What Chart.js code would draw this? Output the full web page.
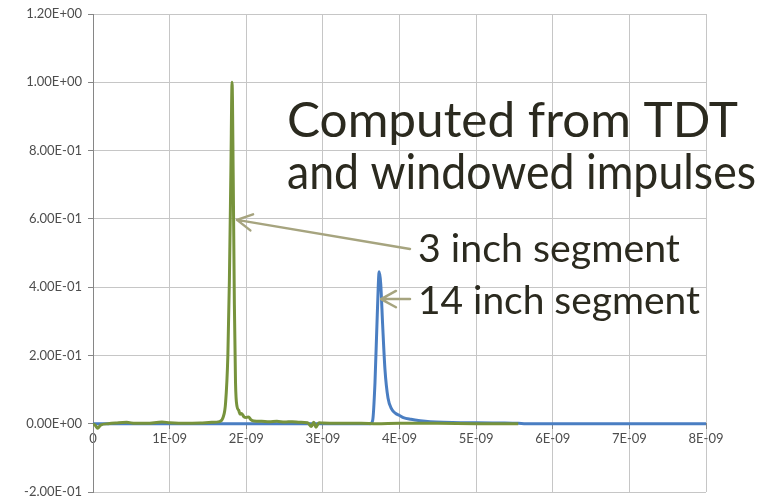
<!DOCTYPE html>
<html>
<head>
<meta charset="utf-8">
<script src="https://cdn.jsdelivr.net/npm/chart.js@4"></script>
<style>
  html, body { margin: 0; padding: 0; background: #fff; }
  #wrap { width: 771px; height: 502px; }
</style>
</head>
<body>
<div id="wrap"><canvas id="impulseChart" width="771" height="502"></canvas></div>
<script>
// time axis is in ns, tick texts below are what the original shows
const xTickLabels = ["0", "1E-09", "2E-09", "3E-09", "4E-09", "5E-09", "6E-09", "7E-09", "8E-09"];
const yTickLabels = ["-2.00E-01", "0.00E+00", "2.00E-01", "4.00E-01", "6.00E-01", "8.00E-01", "1.00E+00", "1.20E+00"];

// 3 inch segment (green)
const greenTime = [0, 0.03, 0.06, 0.1, 0.2, 0.3, 0.44, 0.55, 0.7, 0.9, 1.0, 1.2, 1.4, 1.55, 1.65,
  1.7, 1.73, 1.76, 1.78, 1.8, 1.815, 1.83, 1.845, 1.86, 1.88, 1.9, 1.92, 1.94, 1.97, 2.0, 2.03,
  2.06, 2.1, 2.2, 2.3, 2.4, 2.5, 2.6, 2.7, 2.8, 2.85, 2.88, 2.91, 2.95, 3.0, 3.2, 3.5, 3.7, 4.0,
  4.5, 5.0, 5.55];
const greenValue = [0, -0.005, -0.013, -0.004, 0, 0.002, 0.004, 0.001, 0.001, 0.005, 0.003, 0.001, 0.002, 0.004, 0.006,
  0.02, 0.06, 0.2, 0.42, 0.75, 1.0, 0.72, 0.35, 0.12, 0.05, 0.04, 0.028, 0.03, 0.02, 0.018, 0.02,
  0.012, 0.008, 0.007, 0.006, 0.007, 0.005, 0.006, 0.004, 0.003, -0.008, 0.004, -0.01, 0.003, 0.002, 0.001, 0.001, 0, 0.001,
  0.001, 0, 0];

// 14 inch segment (blue)
const blueTime = [0, 1, 2, 3, 3.62, 3.65, 3.68, 3.71, 3.735, 3.755, 3.78, 3.81, 3.85, 3.9, 3.95,
  4.0, 4.05, 4.15, 4.27, 4.4, 4.57, 4.8, 5.0, 5.3, 5.55, 5.65, 6, 7, 8];
const blueValue = [0, 0, 0, 0, 0, 0.01, 0.12, 0.32, 0.445, 0.41, 0.29, 0.16, 0.075, 0.042, 0.03,
  0.024, 0.018, 0.013, 0.009, 0.006, 0.004, 0.003, 0.003, 0.002, 0.001, 0, 0, 0, 0];

const toPoints = (xs, ys) => xs.map((x, i) => ({ x: x, y: ys[i] }));

// annotation anchors in data units (w = text width in ns)
const notes = {
  title: [{ text: "Computed from TDT", x: 2.532, y: 0.841, w: 5.886 },
          { text: "and windowed impulses", x: 2.532, y: 0.688, w: 6.121 }],
  labels: [{ text: "3 inch segment", x: 4.241, y: 0.474, w: 3.419 },
           { text: "14 inch segment", x: 4.241, y: 0.32, w: 3.68 }],
  arrows: [{ from: [4.137, 0.512], to: [1.879, 0.597] }, { from: [4.137, 0.365], to: [3.759, 0.365] }]
};

const annotate = {
  id: "annotate",
  afterDraw(chart) {
    const ctx = chart.ctx, sx = chart.scales.x, sy = chart.scales.y;
    const put = t => {
      const x = sx.getPixelForValue(t.x), y = sy.getPixelForValue(t.y);
      const want = sx.getPixelForValue(t.x + t.w) - x;
      ctx.save();
      ctx.translate(x, y);
      ctx.scale(want / ctx.measureText(t.text).width, 1);
      ctx.fillText(t.text, 0, 0);
      ctx.restore();
    };
    ctx.save();
    ctx.fillStyle = "#2b2a1f";
    ctx.textBaseline = "alphabetic";
    ctx.textAlign = "left";
    ctx.font = "48px Lato";
    notes.title.forEach(put);
    ctx.font = "38px Lato";
    notes.labels.forEach(put);

    ctx.strokeStyle = "#a6a47f";
    ctx.lineWidth = 2.5;
    ctx.lineCap = "round";
    notes.arrows.forEach(a => {
      const x0 = sx.getPixelForValue(a.from[0]), y0 = sy.getPixelForValue(a.from[1]);
      const x1 = sx.getPixelForValue(a.to[0]), y1 = sy.getPixelForValue(a.to[1]);
      const ang = Math.atan2(y0 - y1, x0 - x1);
      ctx.beginPath();
      ctx.moveTo(x0, y0);
      ctx.lineTo(x1, y1);
      [-0.5, 0.5].forEach(d => {
        ctx.moveTo(x1, y1);
        ctx.lineTo(x1 + 17 * Math.cos(ang + d), y1 + 17 * Math.sin(ang + d));
      });
      ctx.stroke();
    });
    ctx.restore();
  }
};

new Chart(document.getElementById("impulseChart"), {
  type: "line",
  data: {
    datasets: [{
      label: "3 inch segment",
      data: toPoints(greenTime, greenValue),
      borderColor: "#77933c",
      borderWidth: 3,
      pointRadius: 0,
      cubicInterpolationMode: "monotone"
    }, {
      label: "14 inch segment",
      data: toPoints(blueTime, blueValue),
      borderColor: "#4a7ec2",
      borderWidth: 3,
      pointRadius: 0,
      cubicInterpolationMode: "monotone"
    }]
  },
  options: {
    responsive: false,
    animation: false,
    layout: { padding: { top: 14, right: 65, bottom: 10, left: 0 } },
    plugins: { legend: { display: false }, tooltip: { enabled: false } },
    scales: {
      x: {
        type: "linear",
        position: { y: 0 },
        min: 0, max: 8,
        afterFit: s => { s.height = 0; },
        ticks: {
          stepSize: 1,
          color: "#4d4d4d",
          font: { family: "Lato", size: 13 },
          padding: 2,
          maxRotation: 0,
          callback: (v, i) => xTickLabels[i]
        },
        grid: { color: "#c6c6c6", tickColor: "#868686", tickLength: 5 },
        border: { color: "#868686" }
      },
      y: {
        min: -0.2, max: 1.2,
        afterFit: s => { s.width = 93; s.paddingTop = 0; s.paddingBottom = 0; },
        ticks: {
          stepSize: 0.2,
          color: "#4d4d4d",
          font: { family: "Lato", size: 13 },
          padding: 6,
          callback: (v, i) => yTickLabels[i]
        },
        grid: { color: "#c6c6c6", tickColor: "#868686", tickLength: 5 },
        border: { color: "#868686" }
      }
    }
  },
  plugins: [annotate]
});
</script>
</body>
</html>
